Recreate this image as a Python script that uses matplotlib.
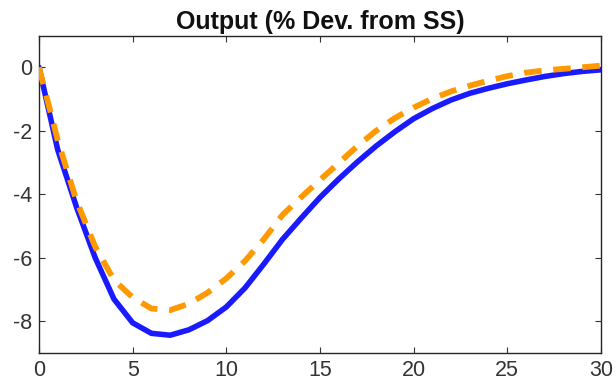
import matplotlib
matplotlib.use("Agg")
import matplotlib.pyplot as plt
import numpy as np

t = list(range(0, 31))
blue = [0.0, -2.6, -4.4, -6.0, -7.3, -8.05, -8.38, -8.44, -8.27, -7.98, -7.55,
        -6.95, -6.2, -5.42, -4.75, -4.1, -3.52, -2.98, -2.48, -2.03, -1.62,
        -1.3, -1.03, -0.82, -0.66, -0.52, -0.4, -0.29, -0.2, -0.13, -0.08]
orange = [0.0, -2.3, -4.2, -5.65, -6.7, -7.25, -7.6, -7.65, -7.45, -7.1, -6.65,
          -6.1, -5.42, -4.65, -4.09, -3.55, -3.02, -2.48, -2.0, -1.6, -1.27,
          -0.99, -0.76, -0.58, -0.42, -0.28, -0.17, -0.1, -0.05, 0.0, 0.05]
xticks = [0, 5, 10, 15, 20, 25, 30]
yticks = [0, -2, -4, -6, -8]

plt.rcParams['font.family'] = ['Liberation Sans', 'DejaVu Sans']
plt.rcParams['axes.unicode_minus'] = False

fig = plt.figure(figsize=(6.16, 3.86), dpi=100)
ax = fig.add_axes([0.0633, 0.0855, 0.9123, 0.8225])

ax.plot(t, blue, color='#1a1aff', lw=4.0, solid_capstyle='round', zorder=2)
ax.plot(t, orange, color='#ff9900', lw=4.2, linestyle=(0, (3.0, 2.0)), zorder=3)

ax.set_xlim(0, 30)
ax.set_ylim(-9, 1)
ax.set_xticks(xticks)
ax.set_yticks(yticks)
ax.tick_params(direction='in', top=True, right=True, length=4, width=0.8,
               labelsize=15.5, colors='#333333', pad=5)
for s in ax.spines.values():
    s.set_color('#262626')
    s.set_linewidth(1.0)
ax.set_title('Output (% Dev. from SS)', fontsize=18, fontweight='bold',
             color='#111111', pad=5)

fig.savefig('out.png', dpi=100)
